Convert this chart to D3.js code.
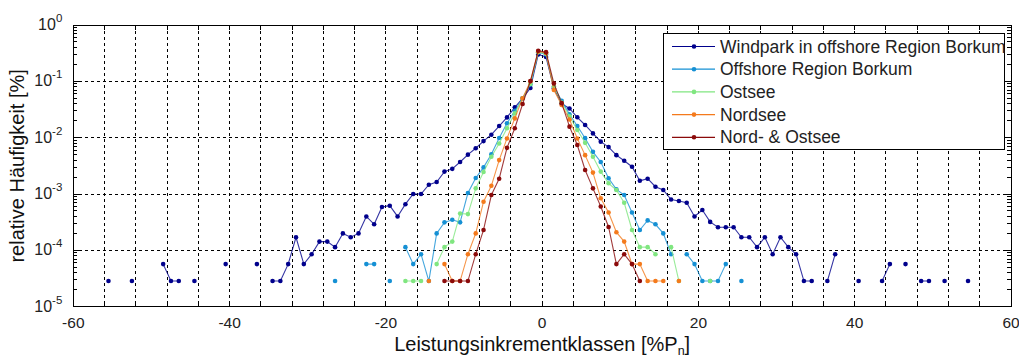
<!DOCTYPE html>
<html><head><meta charset="utf-8">
<script src="https://cdn.jsdelivr.net/npm/d3@7"></script>
<style>
body{margin:0;background:#fff;}
svg{display:block;font-family:"Liberation Sans",Arial,sans-serif;}
</style></head><body>
<svg id="chart" width="1019" height="358"></svg>
<script>
// ---------- data (class centre in %Pn, relative frequency; null = empty class) ----------
const seriesNames = ["Windpark in offshore Region Borkum","Offshore Region Borkum","Ostsee","Nordsee","Nord- & Ostsee"];
const seriesColors = ["#00008c","#1590d4","#80e680","#f47a1c","#8b0a0a"];

const windpark = [
 [-55.5,2.85e-5],[-54.5,null],[-52.5,2.85e-5],[-51.5,null],[-48.5,5.7e-5],[-47.5,2.85e-5],[-46.5,2.85e-5],[-45.5,null],
 [-44.5,2.85e-5],[-43.5,null],[-40.5,5.7e-5],[-39.5,null],[-36.5,5.7e-5],[-35.5,null],[-34.5,2.85e-5],[-33.5,2.85e-5],
 [-32.5,5.7e-5],[-31.5,1.71e-4],[-30.5,5.7e-5],[-29.5,8.55e-5],[-28.5,1.43e-4],[-27.5,1.43e-4],[-26.5,1.14e-4],
 [-25.5,2.0e-4],[-24.5,1.71e-4],[-23.5,2.0e-4],[-22.5,4.0e-4],[-21.5,2.9e-4],[-20.5,5.9e-4],[-19.5,6.2e-4],
 [-18.5,4.0e-4],[-17.5,6.6e-4],[-16.5,1.0e-3],[-15.5,1.0e-3],[-14.5,1.46e-3],[-13.5,1.63e-3],[-12.5,2.5e-3],
 [-11.5,2.8e-3],[-10.5,3.7e-3],[-9.5,5.0e-3],[-8.5,6.5e-3],[-7.5,8.7e-3],[-6.5,0.0113],[-5.5,0.0161],[-4.5,0.0229],
 [-3.5,0.0346],[-2.5,0.05],[-1.5,0.076],[-0.5,0.30],[0.5,0.27],[1.5,0.075],[2.5,0.04],[3.5,0.033],[4.5,0.023],
 [5.5,0.0168],[6.5,0.0119],[7.5,8.5e-3],[8.5,6.8e-3],[9.5,4.9e-3],[10.5,3.9e-3],[11.5,3.05e-3],[12.5,1.72e-3],
 [13.5,1.87e-3],[14.5,1.35e-3],[15.5,1.18e-3],[16.5,8.0e-4],[17.5,7.5e-4],[18.5,7.0e-4],[19.5,4.0e-4],[20.5,5.2e-4],
 [21.5,3.2e-4],[22.5,2.57e-4],[23.5,2.57e-4],[24.5,2.57e-4],[25.5,1.71e-4],[26.5,1.71e-4],[27.5,1.14e-4],
 [28.5,1.71e-4],[29.5,8.55e-5],[30.5,1.71e-4],[31.5,1.14e-4],[32.5,8.55e-5],[33.5,2.85e-5],[34.5,2.85e-5],
 [35.5,null],[36.5,2.85e-5],[37.5,8.55e-5],[38.5,null],[40.5,2.85e-5],[41.5,null],[43.5,2.85e-5],[44.5,5.7e-5],
 [45.5,null],[46.5,5.7e-5],[47.5,null],[48.5,2.85e-5],[49.5,2.85e-5],[50.5,null],[51.5,2.85e-5],[52.5,null],[54.5,2.85e-5]
];
const offshore = [
 [-26.5,2.85e-5],[-25.5,null],[-22.5,5.7e-5],[-21.5,5.7e-5],[-20.5,null],[-19.5,2.85e-5],[-18.5,null],
 [-17.5,1.14e-4],[-16.5,5.7e-5],[-15.5,8.55e-5],[-14.5,2.85e-5],[-13.5,2.0e-4],[-12.5,3.14e-4],[-11.5,3.5e-4],
 [-10.5,3.14e-4],[-9.5,1.04e-3],[-8.5,1.92e-3],[-7.5,2.97e-3],[-6.5,5.06e-3],[-5.5,9.86e-3],[-4.5,0.018],
 [-3.5,0.030],[-2.5,0.05],[-1.5,0.088],[-0.5,0.33],[0.5,0.30],[1.5,0.08],[2.5,0.045],[3.5,0.026],[4.5,0.0161],
 [5.5,9.8e-3],[6.5,5.6e-3],[7.5,3.7e-3],[8.5,1.9e-3],[9.5,1.21e-3],[10.5,9.6e-4],[11.5,4.7e-4],[12.5,2.3e-4],
 [13.5,3.4e-4],[14.5,2.9e-4],[15.5,2.0e-4],[16.5,8.55e-5],[17.5,null],[18.5,8.55e-5],[19.5,5.7e-5],[20.5,2.85e-5],
 [21.5,2.85e-5],[22.5,2.85e-5],[23.5,5.7e-5],[24.5,null],[25.5,2.85e-5]
];
const ostsee = [
 [-17.5,2.85e-5],[-16.5,2.85e-5],[-15.5,2.85e-5],[-14.5,null],[-13.5,5.7e-5],[-12.5,1.14e-4],[-11.5,1.43e-4],
 [-10.5,4.5e-4],[-9.5,4.4e-4],[-8.5,1.26e-3],[-7.5,2.46e-3],[-6.5,4.6e-3],[-5.5,7.9e-3],[-4.5,0.0147],[-3.5,0.027],
 [-2.5,0.05],[-1.5,0.09],[-0.5,0.33],[0.5,0.31],[1.5,0.08],[2.5,0.042],[3.5,0.024],[4.5,0.0137],[5.5,8.1e-3],
 [6.5,4.6e-3],[7.5,2.5e-3],[8.5,1.55e-3],[9.5,1.18e-3],[10.5,7.0e-4],[11.5,2.3e-4],[12.5,1.14e-4],[13.5,1.14e-4],
 [14.5,8.55e-5],[15.5,null],[16.5,1.14e-4],[17.5,2.85e-5],[18.5,null],[21.5,2.85e-5]
];
const nordsee = [
 [-14.5,2.85e-5],[-13.5,null],[-12.5,5.7e-5],[-11.5,2.85e-5],[-10.5,2.85e-5],[-9.5,8.55e-5],[-8.5,2.0e-4],
 [-7.5,7.3e-4],[-6.5,1.4e-3],[-5.5,4.0e-3],[-4.5,9.7e-3],[-3.5,0.022],[-2.5,0.05],[-1.5,0.10],[-0.5,0.34],
 [0.5,0.32],[1.5,0.07],[2.5,0.038],[3.5,0.021],[4.5,9.7e-3],[5.5,4.9e-3],[6.5,2.4e-3],[7.5,8.4e-4],[8.5,4.7e-4],
 [9.5,2.1e-4],[10.5,1.43e-4],[11.5,5.7e-5],[12.5,5.7e-5],[13.5,2.85e-5],[14.5,2.85e-5],[15.5,2.85e-5],[16.5,null],
 [17.5,2.85e-5]
];
const nordOstsee = [
 [-12.5,2.85e-5],[-11.5,2.85e-5],[-10.5,2.85e-5],[-9.5,2.85e-5],[-8.5,8.55e-5],[-7.5,2.3e-4],[-6.5,9.6e-4],
 [-5.5,1.87e-3],[-4.5,6.6e-3],[-3.5,0.0147],[-2.5,0.0396],[-1.5,0.101],[-0.5,0.35],[0.5,0.33],[1.5,0.092],
 [2.5,0.041],[3.5,0.0157],[4.5,7.4e-3],[5.5,2.67e-3],[6.5,1.26e-3],[7.5,6.0e-4],[8.5,2.6e-4],[9.5,5.7e-5],
 [10.5,8.55e-5],[11.5,5.7e-5],[12.5,2.85e-5]
];
const xTickValues = [-60,-40,-20,0,20,40,60];
const yDecades = [1e-5,1e-4,1e-3,1e-2,1e-1,1];
const yExponents = ["-5","-4","-3","-2","-1","0"];
const xLabel = "Leistungsinkrementklassen [%P";
const xLabelSub = "n";
const yLabel = "relative Häufigkeit [%]";

// ---------- layout ----------
const L = 73.3, R = 1011, T = 25, B = 306.7;
const svg = d3.select("#chart");
const x = d3.scaleLinear().domain([-60,60]).range([L,R]);
const y = d3.scaleLog().domain([1e-5,1]).range([B,T]);

// grid
const gridX = d3.range(-56, 60, 4);
svg.append("g").selectAll("line").data(gridX).join("line")
  .attr("x1",d=>x(d)).attr("x2",d=>x(d)).attr("y1",T).attr("y2",B)
  .attr("stroke","#000").attr("stroke-width",1).attr("stroke-dasharray","3,3").attr("shape-rendering","crispEdges");
svg.append("g").selectAll("line").data(yDecades.slice(1,5)).join("line")
  .attr("x1",L).attr("x2",R).attr("y1",d=>y(d)).attr("y2",d=>y(d))
  .attr("stroke","#000").attr("stroke-width",1).attr("stroke-dasharray","3,3").attr("shape-rendering","crispEdges");

// ticks (inward), MATLAB style
const tickG = svg.append("g").attr("stroke","#000").attr("shape-rendering","crispEdges");
d3.range(-60, 61, 4).forEach(v=>{
  tickG.append("line").attr("x1",x(v)).attr("x2",x(v)).attr("y1",B).attr("y2",B-5);
  tickG.append("line").attr("x1",x(v)).attr("x2",x(v)).attr("y1",T).attr("y2",T+5);
});
const minor = [];
yDecades.slice(0,5).forEach(d=>{ for(let k=2;k<=9;k++) minor.push(d*k); });
minor.forEach(v=>{
  tickG.append("line").attr("x1",L).attr("x2",L+4).attr("y1",y(v)).attr("y2",y(v));
  tickG.append("line").attr("x1",R).attr("x2",R-4).attr("y1",y(v)).attr("y2",y(v));
});
yDecades.forEach(v=>{
  tickG.append("line").attr("x1",L).attr("x2",L+7).attr("y1",y(v)).attr("y2",y(v));
  tickG.append("line").attr("x1",R).attr("x2",R-7).attr("y1",y(v)).attr("y2",y(v));
});

// series
const all = [windpark, offshore, ostsee, nordsee, nordOstsee];
const line = d3.line().defined(d=>d[1]!==null).x(d=>x(d[0])).y(d=>y(d[1]));
all.forEach((s,i)=>{
  const g = svg.append("g");
  g.append("path").datum(s).attr("d",line).attr("fill","none")
    .attr("stroke",seriesColors[i]).attr("stroke-width",1.1).attr("stroke-opacity",0.8);
  g.selectAll("circle").data(s.filter(d=>d[1]!==null)).join("circle")
    .attr("cx",d=>x(d[0])).attr("cy",d=>y(d[1])).attr("r",2.3).attr("fill",seriesColors[i]);
});

// axes box
svg.append("rect").attr("x",L).attr("y",T).attr("width",R-L).attr("height",B-T)
  .attr("fill","none").attr("stroke","#000").attr("stroke-width",1).attr("shape-rendering","crispEdges");

// tick labels
svg.append("g").selectAll("text").data(xTickValues).join("text")
  .attr("x",d=>x(d)).attr("y",B+21.5).attr("text-anchor","middle")
  .attr("font-size",15.5).attr("fill","#222").text(d=>d);
const yl = svg.append("g").selectAll("text").data(yDecades).join("text")
  .attr("x",L-11).attr("y",d=>y(d)+5).attr("text-anchor","end")
  .attr("font-size",16).attr("fill","#222");
yl.append("tspan").text("10");
yl.append("tspan").attr("dy",-8).attr("font-size",11.5).text((d,i)=>yExponents[i]);

// axis labels
const xl = svg.append("text").attr("x",(L+R)/2).attr("y",351).attr("text-anchor","middle")
  .attr("font-size",20).attr("fill","#111");
xl.append("tspan").text(xLabel);
xl.append("tspan").attr("dy",4).attr("font-size",12.5).text(xLabelSub);
xl.append("tspan").attr("dy",-4).text("]");
svg.append("text").attr("transform",`translate(24,${(T+B)/2}) rotate(-90)`).attr("text-anchor","middle")
  .attr("font-size",20).attr("fill","#111").text(yLabel);

// legend
const lg = svg.append("g");
lg.append("rect").attr("x",663.5).attr("y",33.5).attr("width",341).attr("height",116)
  .attr("fill","#fff").attr("stroke","#000").attr("stroke-width",1).attr("shape-rendering","crispEdges");
seriesNames.forEach((n,i)=>{
  const yy = 46.5 + i*22.7;
  lg.append("line").attr("x1",672).attr("x2",715).attr("y1",yy).attr("y2",yy)
    .attr("stroke",seriesColors[i]).attr("stroke-width",1.2);
  lg.append("circle").attr("cx",694).attr("cy",yy).attr("r",2.3).attr("fill",seriesColors[i]);
  lg.append("text").attr("x",720).attr("y",yy+6).attr("font-size",17.5).attr("fill","#222").text(n);
});
</script>
</body></html>
